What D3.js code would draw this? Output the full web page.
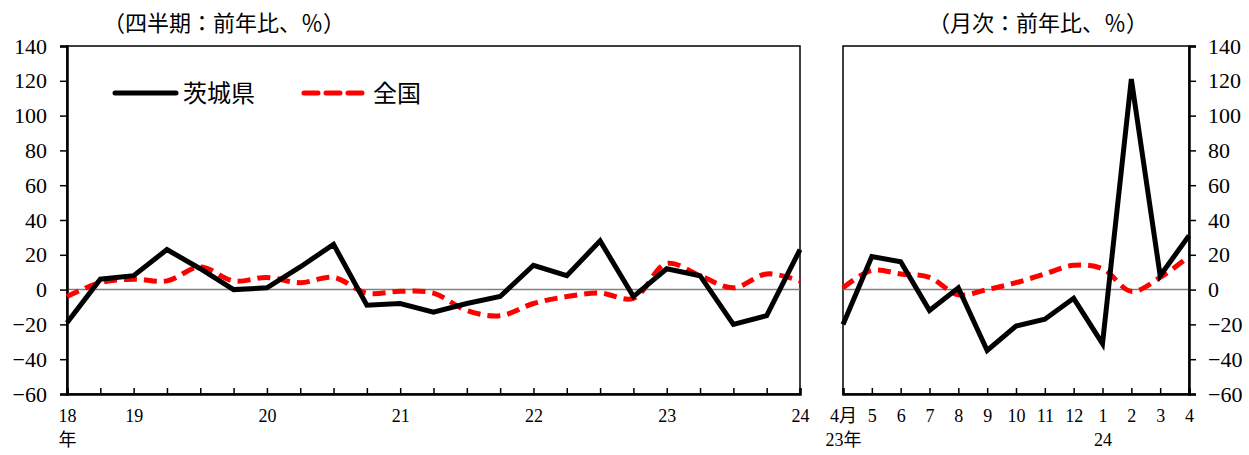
<!DOCTYPE html>
<html>
<head>
<meta charset="utf-8">
<script src="https://cdn.jsdelivr.net/npm/d3@7"></script>
<style>
  body { margin: 0; background: #fff; }
</style>
</head>
<body>
<svg width="1249" height="455"></svg>
<script>
// quarterly (2018Q3 - 2024Q1)
var qLabels = ["18", "", "19", "", "", "", "20", "", "", "", "21", "", "", "", "22", "", "", "", "23", "", "", "", "24"];
var qIbaraki = [-19, 6, 8, 23, 12, 0, 1, 13, 26, -9, -8, -13, -8, -4, 14, 8, 28, -4, 12, 8, -20, -15, 23];
var qZenkoku = [-4, 4, 6, 5, 13, 5, 7, 4, 7, -2, -1, -2, -12, -15, -8, -4, -2, -5, 15, 8, 1, 9, 5];

// monthly (2023/4 - 2024/4)
var mLabels = ["4月", "5", "6", "7", "8", "9", "10", "11", "12", "1", "2", "3", "4"];
var mSub = ["23年", "", "", "", "", "", "", "", "", "24", "", "", ""];
var mIbaraki = [-20, 19, 16, -12, 1, -35, -21, -17, -5, -31, 121, 8, 31];
var mZenkoku = [1, 11, 9, 7, -3, 0, 4, 9, 14, 12, -1, 7, 19];

var yTicks = [-60, -40, -20, 0, 20, 40, 60, 80, 100, 120, 140];

var FONT = "'Liberation Serif', 'DejaVu Serif', 'Noto Sans CJK JP', serif";

var svg = d3.select("svg").style("font-family", FONT);
var top_ = 46, bottom = 394;

var y = d3.scaleLinear().domain([-60, 140]).range([bottom, top_]);

function panel(x0, x1, labels, sub, ib, zk, title, titleX, rightAxis) {
    var idx = d3.range(labels.length);
    var x = d3.scalePoint().domain(idx).range([x0, x1]);
    var g = svg.append("g");

    // frame
    g.append("rect")
        .attr("x", x0).attr("y", top_)
        .attr("width", x1 - x0).attr("height", bottom - top_)
        .attr("fill", "none").attr("stroke", "#000").attr("stroke-width", 1.5);

    // zero line
    g.append("line")
        .attr("x1", x0).attr("x2", x1)
        .attr("y1", y(0)).attr("y2", y(0))
        .attr("stroke", "#808080").attr("stroke-width", 1.5);

    // y axis
    var ya = rightAxis ? d3.axisRight(y) : d3.axisLeft(y);
    ya.tickValues(yTicks).tickSize(7).tickPadding(rightAxis ? 12 : 13);
    var yg = g.append("g")
        .attr("transform", "translate(" + (rightAxis ? x1 : x0) + ",0)")
        .call(ya);
    yg.attr("font-family", null);
    yg.select(".domain").attr("stroke-width", 2.5);
    yg.selectAll(".tick line").attr("stroke-width", 1.5);
    yg.selectAll("text").style("font-size", "22px").style("font-family", FONT);

    // x axis
    var xa = d3.axisBottom(x).tickSize(-6).tickPadding(15)
        .tickFormat(function (i) { return labels[i]; });
    var xg = g.append("g")
        .attr("transform", "translate(0," + bottom + ")")
        .call(xa);
    xg.attr("font-family", null);
    xg.select(".domain").attr("stroke-width", 2.5);
    xg.selectAll(".tick line").attr("stroke-width", 1.5);
    xg.selectAll("text").style("font-size", "18px").style("font-family", FONT);
    xg.selectAll(".tick").filter(function (i) { return sub[i]; })
        .append("text")
        .attr("y", 39).attr("dy", "0.71em")
        .attr("fill", "#000")
        .style("font-size", "18px").style("font-family", FONT)
        .text(function (i) { return sub[i]; });

    var lineStraight = d3.line()
        .x(function (d, i) { return x(i); })
        .y(function (d) { return y(d); });
    var lineSmooth = d3.line()
        .curve(d3.curveCatmullRom.alpha(0.5))
        .x(function (d, i) { return x(i); })
        .y(function (d) { return y(d); });

    g.append("path")
        .attr("d", lineSmooth(zk))
        .attr("fill", "none")
        .attr("stroke", "#ff0000")
        .attr("stroke-width", 5)
        .attr("stroke-dasharray", "13,7");

    g.append("path")
        .attr("d", lineStraight(ib))
        .attr("fill", "none")
        .attr("stroke", "#000")
        .attr("stroke-width", 5)
        .attr("stroke-linejoin", "miter");

    svg.append("text")
        .attr("x", titleX).attr("y", 31)
        .style("font-size", "22px")
        .text(title);
}

panel(67, 800, qLabels, ["年"], qIbaraki, qZenkoku, "（四半期：前年比、％）", 103, false);
panel(843, 1189, mLabels, mSub, mIbaraki, mZenkoku, "（月次：前年比、％）", 928, true);

// legend
var lg = svg.append("g");
lg.append("line").attr("x1", 115).attr("x2", 176).attr("y1", 93).attr("y2", 93)
    .attr("stroke", "#000").attr("stroke-width", 5).attr("stroke-linecap", "round");
lg.append("text").attr("x", 183).attr("y", 102).style("font-size", "24px").text("茨城県");
lg.append("line").attr("x1", 304).attr("x2", 362).attr("y1", 93).attr("y2", 93)
    .attr("stroke", "#ff0000").attr("stroke-width", 5).attr("stroke-dasharray", "14,8")
    .attr("stroke-linecap", "round");
lg.append("text").attr("x", 373).attr("y", 102).style("font-size", "24px").text("全国");
</script>
</body>
</html>
